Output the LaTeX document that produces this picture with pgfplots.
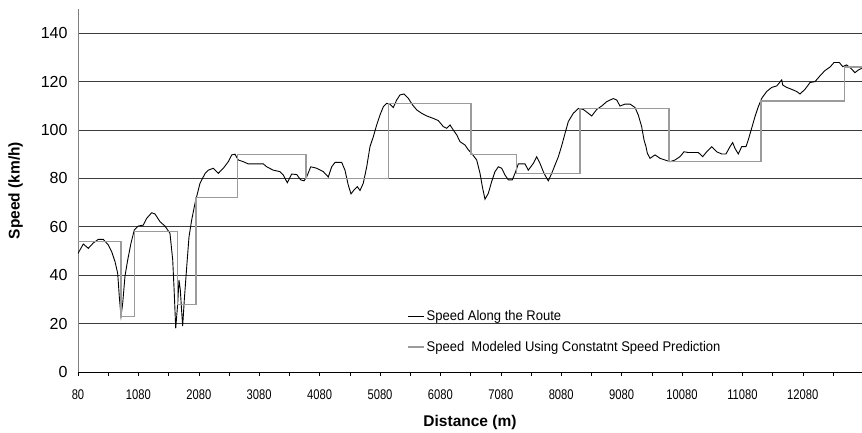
\documentclass[border=0pt]{standalone}
\usepackage{fontspec}
\setmainfont{Liberation Sans}
\newfontfamily\narrowfont[FakeStretch=0.8]{Liberation Sans}
\newfontfamily\legfont[FakeStretch=0.93]{Liberation Sans}
\usepackage{pgfplots}
\pgfplotsset{compat=1.18}
\definecolor{stepgray}{RGB}{155,155,155}
\definecolor{gridc}{RGB}{60,60,60}
\begin{document}
\begin{tikzpicture}
\useasboundingbox (-78pt,-60pt) rectangle (784pt,372pt);
\begin{axis}[
 at={(0pt,0pt)}, anchor=south west,
 scale only axis, width=784pt, height=363pt,
 xmin=80, xmax=13060, ymin=0, ymax=150,
 scaled x ticks=false, scaled y ticks=false,
 axis x line=bottom, axis y line=left, axis line style={-},
 x axis line style={black, line width=0.8pt},
 y axis line style={gray, line width=0.8pt},
 xtick={80,1080,...,12080},
 xticklabels={80,1080,2080,3080,4080,5080,6080,7080,8080,9080,10080,11080,12080},
 minor xtick={580,1580,...,12580},
 tick align=outside,
 major tick length=4pt, minor tick length=4pt,
 xtick style={black, line width=0.6pt},
 ytick={0,20,...,140},
 yticklabels={0,20,40,60,80,100,120,140},
 ytick style={draw=none},
 ymajorgrids, major grid style={gridc, line width=0.8pt},
 xticklabel style={font=\narrowfont\fontsize{14}{14}\selectfont, yshift=-10pt},
 yticklabel style={font=\fontsize{16}{16}\selectfont, xshift=-3pt},
 xlabel={Distance (m)}, ylabel={Speed (km/h)},
 xlabel style={font=\bfseries\fontsize{15.5}{15.5}\selectfont, at={(axis description cs:0.5,-0.1507)}, anchor=base},
 ylabel style={font=\bfseries\fontsize{15.5}{15.5}\selectfont, at={(axis description cs:-0.0797,0.5)}, anchor=center},
 legend style={draw=none, fill=none, at={(axis cs:5527,26.3)}, anchor=north west,
   font=\legfont\fontsize{14}{14}\selectfont, row sep=15pt, inner sep=0pt},
 legend cell align=left,
 legend image code/.code={\draw[#1] (0pt,0pt) -- (16pt,0pt);},
]
\addplot[black, line width=0.9pt] coordinates {
(80,49) (168,52.9) (251,51.1) (333,53.3) (416,54.8) (499,54.8) (582,52.5) (638,49.7)
(693,45.6) (737,40.8) (764,31.1) (792,23) (820,28.4) (858,39.6) (903,46.3) (957,53.2)
(1012,58.7) (1078,60.3) (1161,60.7) (1217,63.5) (1300,65.8) (1355,65.3) (1438,62.1)
(1520,60.3) (1603,57.3) (1648,46.3) (1674,32.5) (1698,18) (1731,28.4) (1752,38)
(1774,33.9) (1797,24.8) (1813,19) (1840,29.8) (1880,43.5) (1918,55.9) (1962,62.8)
(2017,69.7) (2100,78) (2183,82) (2237,83.4) (2320,84.2) (2403,82.1) (2486,84.2)
(2568,86.9) (2625,89.7) (2679,90) (2734,87.6) (2817,86.9) (2899,86) (3148,86)
(3204,84.8) (3313,83.4) (3424,82.8) (3479,81.4) (3545,78.2) (3618,81.8) (3701,81.6)
(3767,79.4) (3822,79) (3866,80.6) (3933,84.8) (4032,84.2) (4141,82.8) (4224,80.6)
(4280,84.8) (4335,86.6) (4446,86.6) (4500,83.4) (4555,77.2) (4600,73.6) (4649,75.2)
(4704,76.6) (4749,75) (4803,78) (4860,84.8) (4914,93.1) (4969,97.2) (5025,102.1)
(5080,106.2) (5135,109.6) (5191,111) (5245,110.7) (5300,109.3) (5356,112.4)
(5411,114.5) (5477,114.9) (5548,113.1) (5621,110.3) (5688,108.3) (5770,106.9)
(5853,105.8) (5962,104.8) (6045,103.9) (6128,101.4) (6184,100.7) (6239,102.1)
(6293,100) (6350,98) (6404,95.2) (6487,93.8) (6542,91.8) (6598,90.3) (6681,87.6)
(6736,82.1) (6774,76.6) (6818,71.4) (6873,73.8) (6929,78.7) (6984,82.8) (7039,84.8)
(7095,84.2) (7149,81.4) (7204,79.4) (7270,79.4) (7315,82.1) (7370,86) (7481,86)
(7535,83.4) (7618,86.2) (7674,88.9) (7729,86.2) (7795,82.1) (7866,79) (7923,82.1)
(7977,85.5) (8032,88.9) (8088,93.5) (8143,98.6) (8198,103.5) (8280,106.9)
(8363,108.9) (8446,108.5) (8529,106.9) (8585,105.8) (8668,108.5) (8750,109.9)
(8833,111.7) (8942,113) (8999,112.4) (9053,109.9) (9136,110.7) (9219,110.7)
(9302,109.3) (9356,106.2) (9412,101.4) (9451,95.9) (9484,93.1) (9506,90.4)
(9550,88.3) (9633,89.7) (9716,88.3) (9799,87.6) (9881,86.9) (9964,87.6) (10047,89)
(10113,91) (10184,90.7) (10267,90.7) (10350,90.7) (10423,89) (10489,91) (10572,93.1)
(10654,91) (10737,90.1) (10808,90.1) (10874,93.1) (10919,94.8) (10957,92.4)
(11012,90.1) (11068,93.1) (11139,93.1) (11177,95.9) (11233,100.7) (11288,105.5)
(11343,109.6) (11400,113.1) (11482,115.9) (11565,117.6) (11648,118.2) (11731,120.7)
(11747,118.6) (11813,117.6) (11896,116.8) (11979,115.9) (12033,114.9) (12116,116.8)
(12199,119.6) (12282,120) (12365,122.4) (12448,124.6) (12530,126) (12597,127.9)
(12684,127.9) (12740,126.2) (12806,126.9) (12873,125.5) (12944,123.7) (12999,124.8)
(13055,125.5)
};
\addlegendentry{Speed Along the Route}
\addplot[stepgray, line width=1.4pt, const plot] coordinates {
(80,54) (792,23) (1012,58) (1724,28) (2034,72) (2717,90) (3855,80) (5217,111)
(6587,90) (7343,82) (8391,109) (9865,87) (11388,112) (12767,126) (13060,126)
};
\addlegendentry{Speed\ \ Modeled Using Constatnt Speed Prediction}
\end{axis}
\end{tikzpicture}
\end{document}
